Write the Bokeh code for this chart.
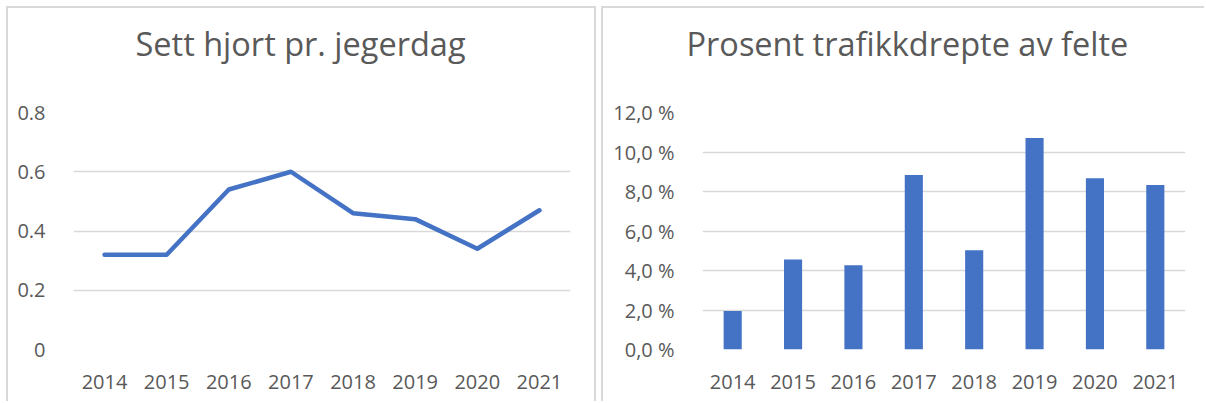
from bokeh.plotting import figure
from bokeh.layouts import row
from bokeh.models import Range1d, FixedTicker, Title
from bokeh.embed import file_html
from bokeh.resources import INLINE

# ---- data ----
years = ["2014", "2015", "2016", "2017", "2018", "2019", "2020", "2021"]
sett_hjort = [0.32, 0.32, 0.54, 0.60, 0.46, 0.44, 0.34, 0.47]
trafikkdrepte_pct = [1.95, 4.56, 4.26, 8.83, 5.03, 10.71, 8.67, 8.33]

left_ticks = [0, 0.2, 0.4, 0.6, 0.8]
left_tick_labels = ["0", "0.2", "0.4", "0.6", "0.8"]
right_ticks = [0, 2, 4, 6, 8, 10, 12]
right_tick_labels = ["0,0 %", "2,0 %", "4,0 %", "6,0 %", "8,0 %", "10,0 %", "12,0 %"]

left_title = "Sett hjort pr. jegerdag"
right_title = "Prosent trafikkdrepte av felte"

FONT = "Open Sans"
TEXT = "#595959"
GRID = "#D9D9D9"
BLUE = "#4472C4"
BORDER = "2px solid #D9D9D9"


def style(p, ticks, labels):
    p.xgrid.grid_line_color = None
    p.ygrid.grid_line_color = GRID
    p.ygrid.grid_line_width = 1.5
    p.outline_line_color = None
    p.background_fill_color = "white"
    p.border_fill_color = "white"
    for ax in (p.xaxis[0], p.yaxis[0]):
        ax.axis_line_color = None
        ax.major_tick_line_color = None
        ax.minor_tick_line_color = None
        ax.major_label_text_font = FONT
        ax.major_label_text_font_size = "20px"
        ax.major_label_text_color = TEXT
    p.xaxis.major_label_standoff = 19
    p.yaxis.major_label_standoff = 22
    p.yaxis.ticker = FixedTicker(ticks=ticks)
    p.yaxis.major_label_overrides = {t: l for t, l in zip(ticks, labels)}


def add_title(p, text, offset):
    # empty spacer panel between the frame and the title
    p.add_layout(Title(text=" ", text_font=FONT, text_font_size="1px",
                       standoff=34), "above")
    p.add_layout(Title(text=text, text_font=FONT, text_font_size="32.5px",
                       text_font_style="normal", text_color=TEXT,
                       align="left", offset=offset, standoff=19), "above")


# ---- left: line chart ----
p1 = figure(width=590, height=395, x_range=years, y_range=Range1d(0, 0.8),
            output_backend="svg", toolbar_location=None,
            min_border_left=65, min_border_right=28,
            min_border_top=104, min_border_bottom=51)
p1.line(years, sett_hjort, line_color=BLUE, line_width=4.5,
        line_cap="round", line_join="round")
style(p1, left_ticks, left_tick_labels)
add_title(p1, left_title, 62)
p1.styles = {"border-top": BORDER, "border-left": BORDER, "border-right": BORDER}
p1.margin = (6, 0, 0, 6)

# ---- right: bar chart ----
p2 = figure(width=603, height=395, x_range=years, y_range=Range1d(0, 12),
            output_backend="svg", toolbar_location=None,
            min_border_left=99, min_border_right=21,
            min_border_top=104, min_border_bottom=54)
p2.vbar(x=years, top=trafikkdrepte_pct, width=0.3, fill_color=BLUE, line_color=None)
style(p2, right_ticks, right_tick_labels)
add_title(p2, right_title, -16)
p2.styles = {"border-top": BORDER, "border-left": BORDER}
p2.margin = (6, 0, 0, 0)

layout = row(p1, p2, spacing=5)

open("out.html", "w").write(file_html(layout, INLINE))
